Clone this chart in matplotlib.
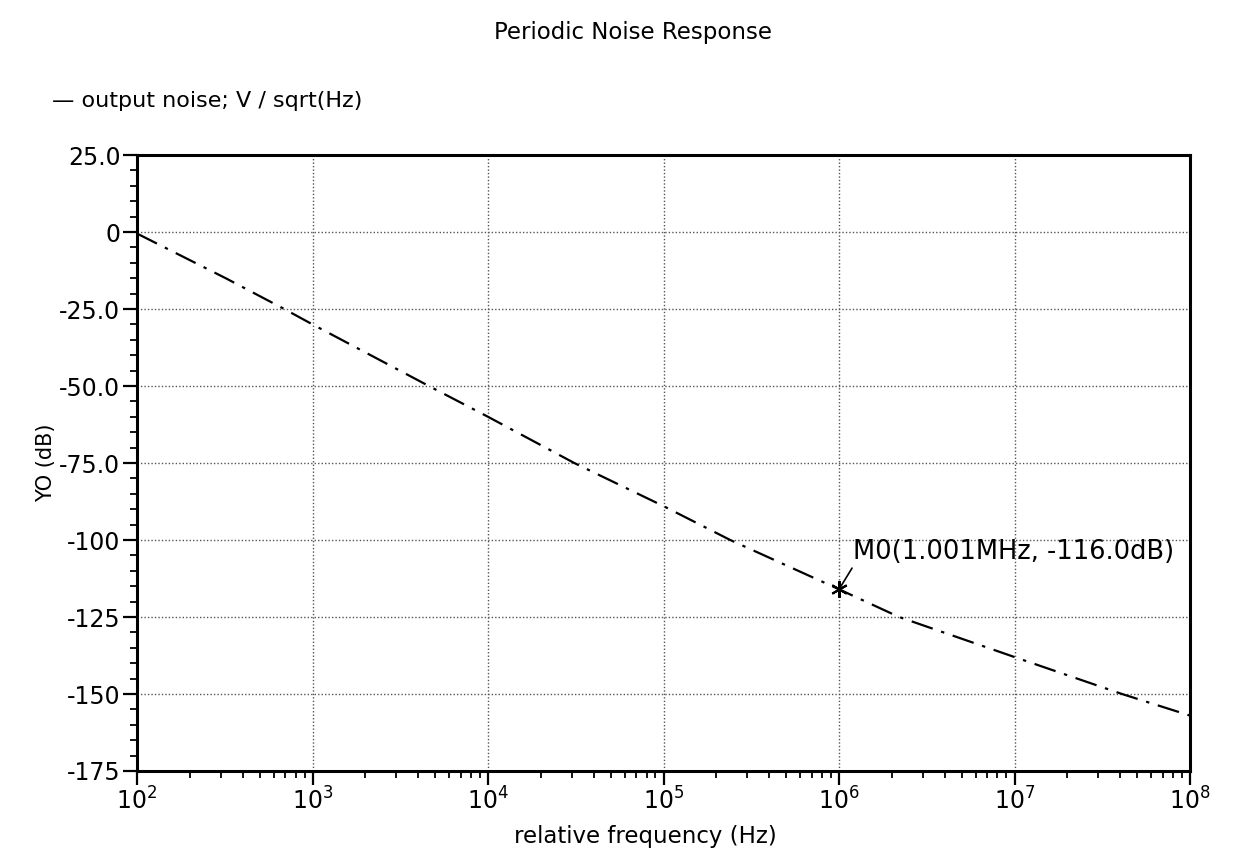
import numpy as np
import matplotlib.pyplot as plt
from matplotlib.ticker import FixedLocator, LogLocator, NullFormatter

# values
freq_hz = [1.0e2, 3.2e2, 6.9e2, 1.0e3, 4.6e3, 1.0e4, 3.1e4, 1.0e5,
           2.4e5, 1.0e6, 2.2e6, 1.0e7, 4.1e7, 1.0e8]
noise_db = [-0.5, -15.0, -25.0, -30.0, -50.0, -60.0, -75.0, -89.0,
            -100.0, -116.0, -125.0, -138.0, -150.0, -157.0]
marker_f = 1.001e6
marker_db = -116.0
y_ticks = [25, 0, -25, -50, -75, -100, -125, -150, -175]
y_labels = ['25.0', '0', '-25.0', '-50.0', '-75.0', '-100', '-125', '-150', '-175']
x_ticks = [1e2, 1e3, 1e4, 1e5, 1e6, 1e7, 1e8]
x_labels = [r'$10^{%d}$' % e for e in range(2, 9)]

plt.rcParams['font.family'] = ['DejaVu Sans']
plt.rcParams['mathtext.fontset'] = 'dejavusans'

fig = plt.figure(figsize=(12.37, 8.56), dpi=100)
ax = fig.add_axes([0.1108, 0.0993, 0.8512, 0.7196])

ax.semilogx(freq_hz, noise_db, color='black', lw=1.6,
            linestyle=(0, (10, 4, 1.5, 4)))
ax.plot([marker_f], [marker_db], marker=(6, 2, 0), color='black',
        ms=12, mew=1.5)
ax.annotate('M0(1.001MHz, -116.0dB)', xy=(marker_f, marker_db),
            xytext=(1.2e6, -104), fontsize=18.5, va='center',
            arrowprops=dict(arrowstyle='-', color='black', lw=1.2,
                            relpos=(0.01, 0.15), shrinkA=0, shrinkB=2))

ax.set_xlim(1e2, 1e8)
ax.set_ylim(-175, 25)
ax.xaxis.set_major_locator(FixedLocator(x_ticks))
ax.set_xticklabels(x_labels, fontsize=17)
ax.xaxis.set_minor_locator(LogLocator(base=10, subs=np.arange(2, 10)))
ax.xaxis.set_minor_formatter(NullFormatter())
ax.set_yticks(y_ticks)
ax.set_yticklabels(y_labels, fontsize=17)
ax.set_yticks(np.arange(-175, 26, 5), minor=True)

ax.tick_params(which='major', direction='out', length=10, width=1.6,
               color='black', pad=2)
ax.tick_params(which='minor', direction='out', length=5, width=1.3)
for s in ax.spines.values():
    s.set_linewidth(2.2)

ax.grid(True, which='major', color='#555555', linestyle=(0, (1, 1.5)),
        lw=1.0)

ax.set_xlabel('relative frequency (Hz)', fontsize=16.5)
ax.xaxis.set_label_coords(0.483, -0.087)
ax.set_ylabel('YO (dB)', fontsize=15, labelpad=2)
fig.text(0.512, 0.962, 'Periodic Noise Response', ha='center',
         va='center', fontsize=16.5)
fig.text(0.042, 0.882, '\u2014 output noise; V / sqrt(Hz)', ha='left',
         va='center', fontsize=16)

fig.savefig('out.png', dpi=100)
